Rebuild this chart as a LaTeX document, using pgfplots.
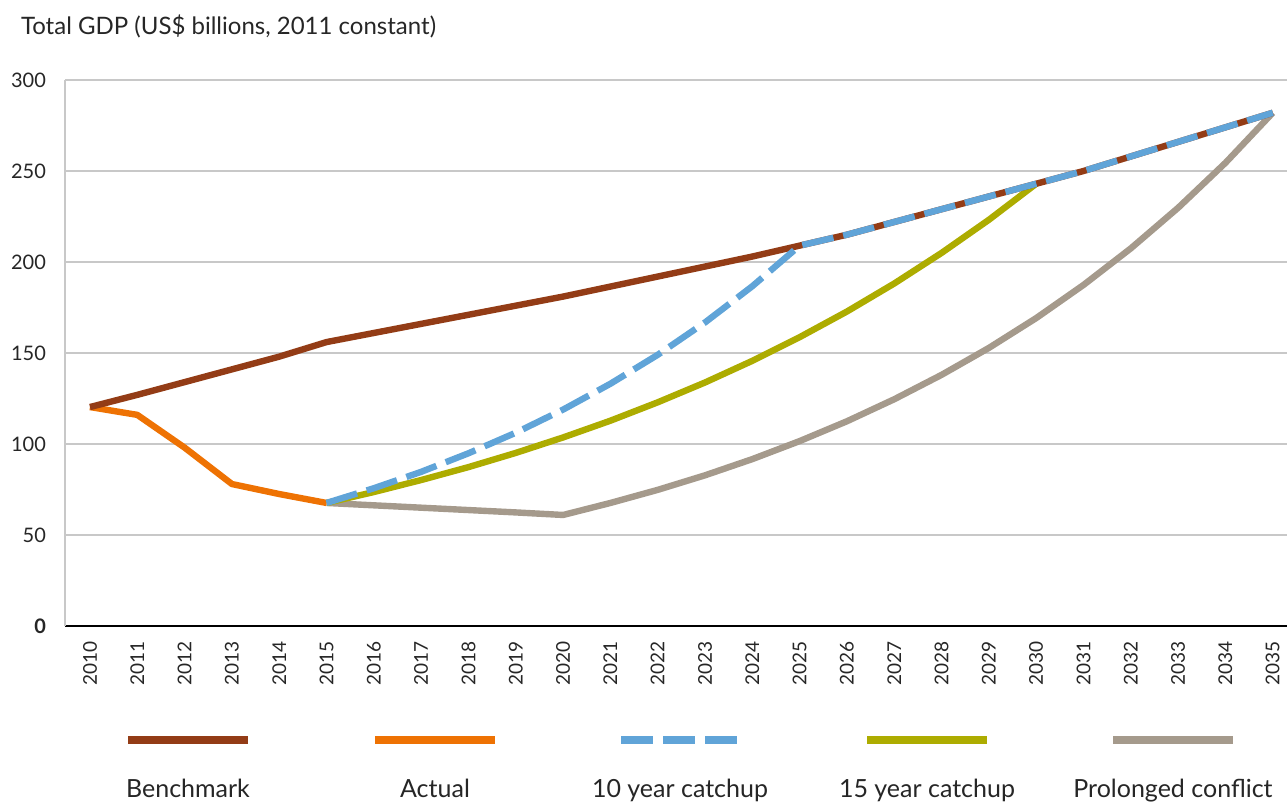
\documentclass[border=0pt]{standalone}
\usepackage{pgfplots}
\pgfplotsset{compat=1.18}
\usepackage{fontspec}
\setmainfont{Lato}
\definecolor{bench}{HTML}{933C16}
\definecolor{actual}{HTML}{EE7203}
\definecolor{tenyr}{HTML}{60A4D8}
\definecolor{fifteenyr}{HTML}{ADAC00}
\definecolor{prolonged}{HTML}{A59A8C}
\definecolor{gridgray}{HTML}{C8C8C8}

\begin{document}
\begin{tikzpicture}
\begin{axis}[
  at={(32.5pt,88pt)}, anchor=south west,
  scale only axis, width=611pt, height=273pt,
  xmin=2009.472, xmax=2035.3, ymin=0, ymax=300,
  xtick={2010,...,2035},
  ytick={0,50,...,300},
  yticklabels={\textbf{0},50,100,150,200,250,300},
  minor x tick num=1,
  axis x line*=bottom, axis y line*=left,
  x axis line style={black, line width=1pt},
  y axis line style={gridgray, line width=0.6pt},
  ymajorgrids, grid style={gridgray, line width=0.6pt},
  major tick length=0pt,
  minor tick length=8pt,
  tick align=inside,
  minor tick style={gray, line width=0.6pt},
  /pgf/number format/1000 sep={},
  /pgf/number format/assume math mode=true,
  % shifts act in the rotated frame: xshift<0 moves the label down
  xticklabel style={rotate=90, anchor=east, xshift=-4pt, font=\fontsize{9.5}{9.5}\selectfont, text=black!85},
  yticklabel style={font=\fontsize{10}{10}\selectfont, xshift=-6pt, text=black!85},
  every axis plot/.append style={line width=3.2pt, line join=round},
]
% prolonged conflict
\addplot[prolonged] coordinates {
  (2015,67.6)(2016,66.3)(2017,65.0)(2018,63.7)(2019,62.4)(2020,61.0)
  (2021,67.6)(2022,74.8)(2023,82.8)(2024,91.7)(2025,101.6)(2026,112.5)
  (2027,124.6)(2028,138.0)(2029,152.8)(2030,169.2)(2031,187.4)(2032,207.5)
  (2033,229.8)(2034,254.5)(2035,282.0)
};
% 15 year catchup
\addplot[fifteenyr] coordinates {
  (2015,67.6)(2016,73.6)(2017,80.2)(2018,87.3)(2019,95.1)(2020,103.6)
  (2021,112.8)(2022,122.9)(2023,133.8)(2024,145.7)(2025,158.7)(2026,172.8)
  (2027,188.2)(2028,205.0)(2029,223.2)(2030,243.0)
};
% actual
\addplot[actual] coordinates {
  (2010,120.3)(2011,116.0)(2012,98.0)(2013,78.0)(2014,72.5)(2015,67.6)
};
% benchmark
\addplot[bench] coordinates {
  (2010,120.3)(2011,127)(2012,134)(2013,141)(2014,148)(2015,156)
  (2016,161)(2017,166)(2018,171)(2019,176)(2020,181)(2021,186.5)
  (2022,192)(2023,197.5)(2024,203)(2025,209)(2026,215)(2027,222)
  (2028,229)(2029,236)(2030,243)(2031,250)(2032,258)(2033,266)
  (2034,274)(2035,282)
};
% 10 year catchup
\addplot[tenyr, dash pattern=on 16pt off 5pt, line cap=butt] coordinates {
  (2015,67.6)(2016,75.7)(2017,84.7)(2018,94.9)(2019,106.2)(2020,118.9)
  (2021,133.1)(2022,149.0)(2023,166.8)(2024,186.7)(2025,209)(2026,215)
  (2027,222)(2028,229)(2029,236)(2030,243)(2031,250)(2032,258)(2033,266)
  (2034,274)(2035,282)
};
\end{axis}
\node[anchor=base west, font=\fontsize{12}{12}\selectfont, text=black!85] at (7pt,383.5pt) {Total GDP (US\$ billions, 2011 constant)};
% legend
\draw[bench, line width=4pt] (64pt,31pt) -- (124pt,31pt);
\draw[actual, line width=4pt] (187.5pt,31pt) -- (247.5pt,31pt);
\draw[tenyr, line width=4pt, dash pattern=on 16pt off 5pt] (310.5pt,31pt) -- (369pt,31pt);
\draw[fifteenyr, line width=4pt] (433.5pt,31pt) -- (493.5pt,31pt);
\draw[prolonged, line width=4pt] (556.5pt,31pt) -- (616.5pt,31pt);
\begin{scope}[every node/.style={anchor=base, font=\fontsize{12.5}{12.5}\selectfont, text=black!85}]
\node at (94pt,2pt) {Benchmark};
\node at (217.5pt,2pt) {Actual};
\node at (340pt,2pt) {10 year catchup};
\node at (463.5pt,2pt) {15 year catchup};
\node at (586.5pt,2pt) {Prolonged conflict};
\end{scope}
\pgfresetboundingbox
\useasboundingbox (0,0) rectangle (643.5pt,401pt);
\end{tikzpicture}
\end{document}
